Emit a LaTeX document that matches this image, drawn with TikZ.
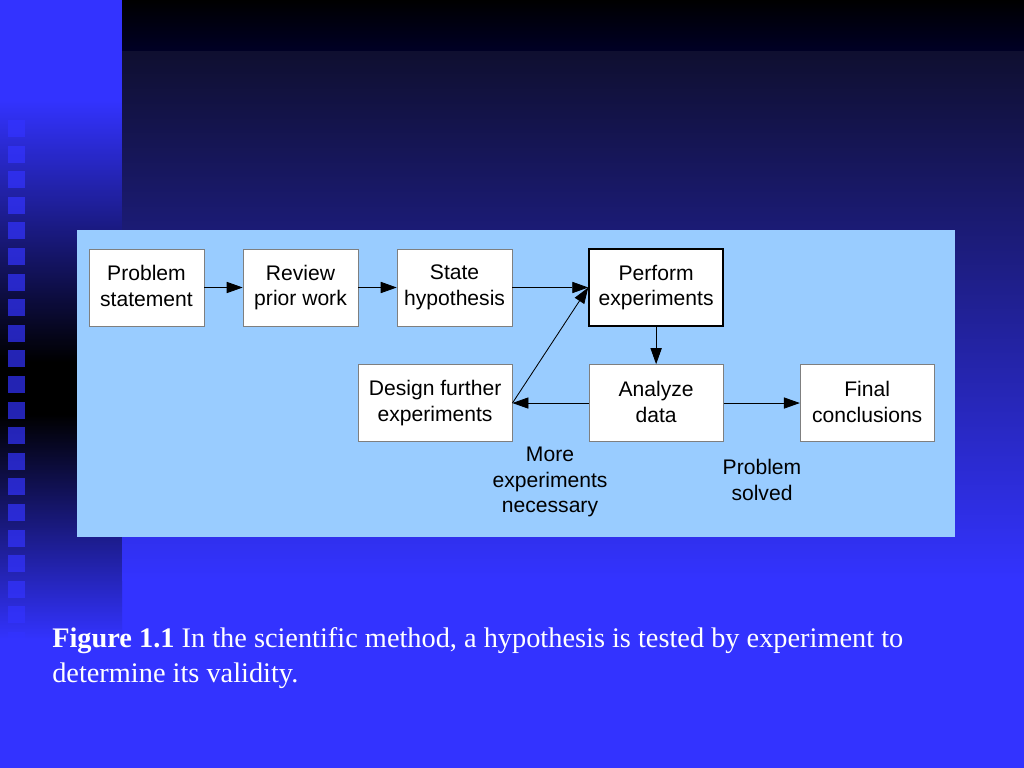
\documentclass[tikz,border=0pt]{standalone}
\usepackage{fontspec}
\setmainfont{Liberation Serif}
\setsansfont{Liberation Sans}
\usetikzlibrary{arrows.meta}
\definecolor{slideblue}{HTML}{3333FF}
\definecolor{nightblue}{HTML}{0F0F30}
\definecolor{panelblue}{HTML}{99CCFF}
\definecolor{boxgray}{HTML}{7F7F7F}
\newcommand\boxstrut{\rule[-2pt]{0pt}{17pt}}
\tikzset{
  stepbox/.style={draw=boxgray, line width=0.5pt, fill=white, inner sep=0pt,
    minimum height=1.925cm, minimum width=2.875cm, align=center,
    font=\sffamily\fontsize{15}{18.3}\selectfont,
    execute at begin node=\boxstrut, execute at end node=\boxstrut},
  keybox/.style={stepbox, draw=black, line width=1.2pt},
  note/.style={align=center, inner sep=0pt, font=\sffamily\fontsize{15}{18.3}\selectfont},
  conn/.style={->, line width=0.6pt},
  caption/.style={text=white, align=left, inner sep=0pt, font=\fontsize{20.15}{24.9}\selectfont}
}

\begin{document}
\begin{tikzpicture}[x=0.025cm, y=-0.025cm, node distance=3.85cm,
    >={Triangle[length=0.4cm, width=0.28cm]}]
  \useasboundingbox (0,0) rectangle (1024,768);
  % slide background
  \fill[slideblue] (0,0) rectangle (1024,768);
  \shade[top color=slideblue, bottom color=black] (0,100) rectangle (122,362);
  \fill[black] (0,362) rectangle (122,414);
  \shade[top color=black, bottom color=slideblue] (0,414) rectangle (122,640);
  \shade[top color=black, bottom color=black!85!blue] (122,0) rectangle (1024,52);
  \shade[top color=nightblue, bottom color=slideblue] (122,52) rectangle (1024,580);
  \foreach \i in {0,...,20}
    \fill[slideblue, opacity=0.7] (8,120+25.6*\i) rectangle ++(17,17);
  % panel
  \fill[panelblue] (77,230) rectangle (955,537);

  \node[stepbox] (prob) at (146.5,287.5) {Problem\\statement};
  \node[stepbox, right of=prob] (prior) {Review\\prior work};
  \node[stepbox, right of=prior] (hypo) {State\\hypothesis};
  \node[keybox, minimum width=3.35cm, node distance=5.0375cm, right of=hypo] (perf) {Perform\\experiments};
  \node[stepbox, minimum width=3.35cm, node distance=2.8875cm, below of=perf] (anal) {Analyze\\data};
  \node[stepbox, minimum width=3.85cm, node distance=5.525cm, left of=anal] (design) {Design further\\experiments};
  \node[stepbox, minimum width=3.35cm, node distance=5.275cm, right of=anal] (final) {Final\\conclusions};
  \node[note] (more) at (550,482) {More\\experiments\\necessary};
  \node[note] (solved) at (762,480) {Problem\\solved};
  \path[conn] (prob) edge (prior)
        (prior) edge (hypo)
        (hypo) edge (perf)
        (perf) edge (anal)
        (anal) edge (design.east)
               edge (final)
        (design.east) edge (perf.west);

  \node[caption, anchor=north west] (cap) at (52,627.5)
    {\textbf{Figure 1.1} In the scientific method, a hypothesis is tested by experiment to\\determine its validity.};
\end{tikzpicture}
\end{document}
